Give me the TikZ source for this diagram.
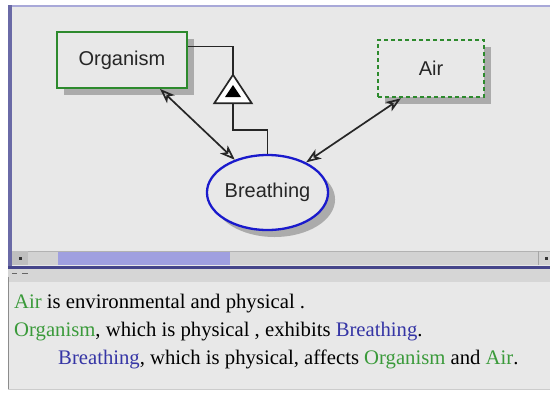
\documentclass[tikz,border=0pt]{standalone}
\usepackage{fontspec}
\setmainfont{Liberation Serif}
\newfontfamily\nodefont{Liberation Sans}
\usetikzlibrary{shapes.geometric,arrows.meta,shadows}
\definecolor{bg}{HTML}{E8E8E8}
\definecolor{ngreen}{HTML}{2D8A2D}
\definecolor{tgreen}{HTML}{3A9A3A}
\definecolor{nblue}{HTML}{1A1ACC}
\definecolor{tblue}{HTML}{3535A5}
\definecolor{shade}{HTML}{ABABAB}
\definecolor{frameblue}{HTML}{6A6AA6}
\definecolor{lavender}{HTML}{A8A8D8}
\definecolor{thumb}{HTML}{A0A0E0}
\definecolor{track}{HTML}{D2D2D2}
\definecolor{darkline}{HTML}{45458A}
\tikzset{
  shad/.style={drop shadow={shadow xshift=7pt, shadow yshift=-7pt, fill=shade, opacity=1}},
  orgbox/.style={rectangle, draw=ngreen, line width=1.8pt, fill=bg, shad,
    minimum width=130pt, minimum height=56pt, inner sep=0pt,
    font=\nodefont\fontsize{20}{22}\selectfont, text=black!85},
  airbox/.style={rectangle, draw=ngreen, line width=2.6pt, dash pattern=on 4pt off 3pt, fill=bg, shad,
    minimum width=106pt, minimum height=57pt, inner sep=0pt,
    font=\nodefont\fontsize{20}{22}\selectfont, text=black!85},
  brell/.style={ellipse, draw=nblue, line width=2.3pt, fill=bg, shad,
    minimum width=119pt, minimum height=75pt, inner sep=0pt,
    font=\nodefont\fontsize{20}{22}\selectfont, text=black!85},
  tribox/.style={minimum width=37pt, minimum height=28pt, inner sep=0pt},
  conn/.style={line width=1.7pt, black!85},
  dbl/.style={line width=1.7pt, black!85, {Stealth[open,length=15pt,width=11pt,inset=4pt]}-{Stealth[open,length=15pt,width=11pt,inset=4pt]}},
  txt/.style={inner sep=0pt, anchor=base west, font=\fontsize{20.7}{24}\selectfont, text=black}
}
\begin{document}
\begin{tikzpicture}[x=1pt,y=-1pt]
\useasboundingbox (0,0) rectangle (550,392);
\fill[white] (0,0) rectangle (550,392);
% top panel
\fill[bg] (8,6) rectangle (550,266);
\draw[lavender, line width=2.5pt] (8,6) -- (550,6);
\draw[frameblue, line width=3.5pt] (9.75,5) -- (9.75,268);
% scrollbar
\fill[track] (12,251) rectangle (550,265);
\draw[black!30, line width=0.6pt] (12,251) -- (550,251);
\fill[black!25] (12,251) rectangle (28,265);
\fill[black!80] (18.5,256.5) rectangle (21.5,259.5);
\fill[thumb] (58,251.5) rectangle (230,264.5);
\draw[black!35, line width=0.6pt] (538,251) -- (538,265);
\fill[black!80] (544.5,256.5) rectangle (547.5,259.5);
\draw[darkline, line width=2.5pt] (8,267.5) -- (550,267.5);
% splitter strip
\fill[black!16] (8,269) rectangle (550,282);
\draw[black!60, line width=1pt] (12,273) -- (17,273) (22,273) -- (28,273);
% bottom panel
\fill[bg] (8,282) rectangle (550,389);
\draw[black!45, line width=1pt] (8.5,277) -- (8.5,389);
\draw[black!20, line width=1pt] (8,389) -- (550,389);

% nodes
\node[orgbox] (org) at (122,60) {Organism};
\node[airbox] (air) at (431,68.5) {Air};
\node[brell] (br) at (267.5,192.5) {Breathing};
\node[tribox] (tri) at (233,89) {};
\coordinate (h1) at (0,46.5);
\coordinate (h2) at (0,130);

% connectors
\draw[conn] (org.east |- h1) -| (tri.north);
\draw[conn] (tri.south) |- (br.north |- h2) -- (br.north);
\draw[line width=1.7pt, black!85, fill=white] (tri.south west) -- (tri.north) -- (tri.south east) -- cycle;
\fill[black] ([shift={(0,-4)}]tri.center) -- ([shift={(8,8)}]tri.center) -- ([shift={(-8,8)}]tri.center) -- cycle;
\draw[dbl] ([xshift=38pt]org.south) -- (br.135);
\draw[dbl] ([xshift=-30pt]air.south) -- (br.38);

% text
\node[txt] (l1) at (14,308) {\textcolor{tgreen}{Air} is environmental and physical .};
\node[txt] (l2) at (14,336) {\textcolor{tgreen}{Organism}, which is physical , exhibits \textcolor{tblue}{Breathing}.};
\node[txt] (l3) at (58,364) {\textcolor{tblue}{Breathing}, which is physical, affects \textcolor{tgreen}{Organism} and \textcolor{tgreen}{Air}.};
\end{tikzpicture}
\end{document}
